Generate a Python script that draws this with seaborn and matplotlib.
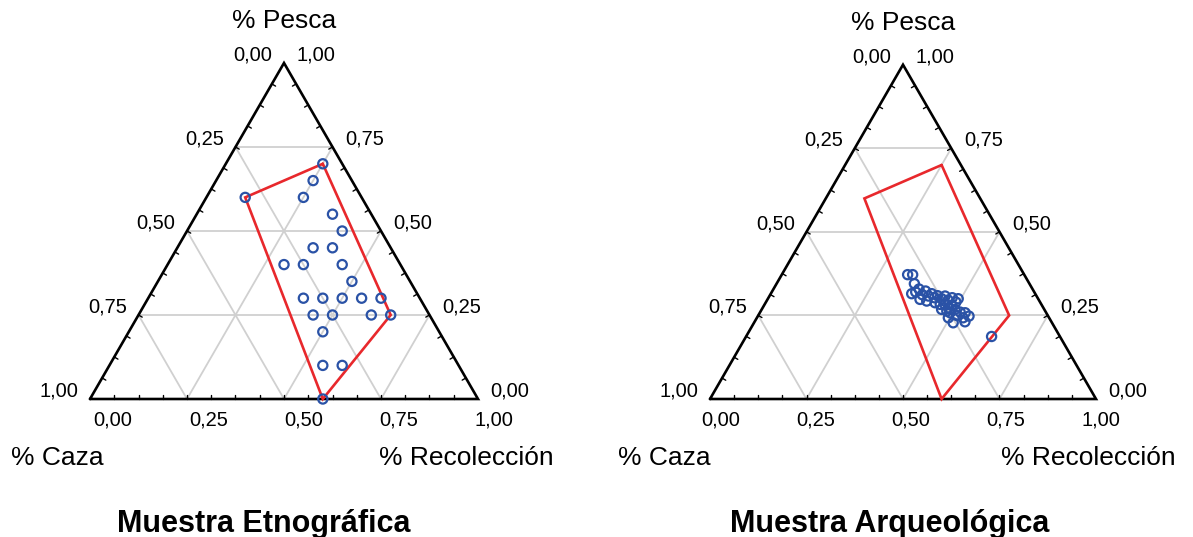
import numpy as np
import pandas as pd
import matplotlib
matplotlib.use("Agg")
import matplotlib.pyplot as plt
import seaborn as sns

# ---------------- data (fractions) ----------------
# Muestra Etnográfica
etno_pesca = [0.70, 0.65, 0.60, 0.60, 0.55, 0.50, 0.45, 0.45, 0.40, 0.40, 0.40, 0.35,
              0.30, 0.30, 0.30, 0.30, 0.30, 0.25, 0.25, 0.25, 0.25, 0.20, 0.10, 0.10, 0.00]
etno_recol = [0.25, 0.25, 0.10, 0.25, 0.35, 0.40, 0.35, 0.40, 0.30, 0.35, 0.45, 0.50,
              0.40, 0.45, 0.50, 0.55, 0.60, 0.45, 0.50, 0.60, 0.65, 0.50, 0.55, 0.60, 0.60]

# Muestra Arqueológica
arq_pesca = [0.372, 0.372, 0.345, 0.315, 0.320, 0.329, 0.312, 0.323, 0.308, 0.315,
             0.303, 0.309, 0.300, 0.308, 0.296, 0.303, 0.290, 0.300, 0.283, 0.273,
             0.280, 0.268, 0.258, 0.250, 0.243, 0.228, 0.260, 0.258, 0.248, 0.231,
             0.298, 0.293, 0.288, 0.283, 0.268, 0.263, 0.243, 0.187]
arq_recol = [0.326, 0.339, 0.357, 0.365, 0.373, 0.377, 0.394, 0.397, 0.412, 0.417,
             0.430, 0.435, 0.450, 0.455, 0.469, 0.476, 0.492, 0.493, 0.467, 0.481,
             0.486, 0.501, 0.493, 0.514, 0.496, 0.516, 0.518, 0.532, 0.547, 0.545,
             0.395, 0.415, 0.439, 0.455, 0.466, 0.482, 0.534, 0.636]

# polygon enclosing the ethnographic sample
hull_pesca = [0.70, 0.60, 0.00, 0.25]
hull_recol = [0.25, 0.10, 0.60, 0.65]

major_ticks = [0.0, 0.25, 0.50, 0.75, 1.0]
tick_labels = ["0,00", "0,25", "0,50", "0,75", "1,00"]
grid_vals = [0.25, 0.50, 0.75]
minor_step = 1 / 16

panel_titles = ["Muestra Etnográfica", "Muestra Arqueológica"]
axis_names = ["% Pesca", "% Caza", "% Recolección"]

# ---------------- style ----------------
sns.set_theme(style="white")
plt.rcParams["font.family"] = ["Liberation Sans", "DejaVu Sans"]
plt.rcParams["text.color"] = "black"

W_PX, H_PX = 1193, 537
DPI = 100
BLUE = "#2a52a6"
RED = "#e8282c"
GRID = "#d0d0d0"
H = np.sqrt(3) / 2
PT = 72 / DPI  # points per pixel


def tern(p, r):
    p = np.asarray(p, float)
    r = np.asarray(r, float)
    return r + p / 2, p * H


fig = plt.figure(figsize=(W_PX / DPI, H_PX / DPI), dpi=DPI)

panels = [
    dict(blx=90, bly=399, w=388, pesca=etno_pesca, recol=etno_recol,
         boff=(23, 7), caza_xy=(57, 458), rec_xy=(466, 458), title_xy=(264, 524)),
    dict(blx=710, bly=399, w=386, pesca=arq_pesca, recol=arq_recol,
         boff=(11, 6), caza_xy=(664, 458), rec_xy=(1088, 458), title_xy=(890, 524)),
]

pad = 0.08
for i, P in enumerate(panels):
    w = P["w"]
    left = (P["blx"] - pad * w) / W_PX
    bottom = (H_PX - P["bly"] - pad * w) / H_PX
    ax = fig.add_axes([left, bottom, (1 + 2 * pad) * w / W_PX, (H + 2 * pad) * w / H_PX])

    # grid lines
    for v in grid_vals:
        x, y = tern([v, v], [0, 1 - v])          # constant pesca
        ax.plot(x, y, color=GRID, lw=1.3, zorder=1)
        x, y = tern([0, 1 - v], [v, v])          # constant recoleccion
        ax.plot(x, y, color=GRID, lw=1.3, zorder=1)
        x, y = tern([0, 1 - v], [1 - v, 0])      # constant caza
        ax.plot(x, y, color=GRID, lw=1.3, zorder=1)

    # triangle frame
    x, y = tern([0, 0, 1, 0], [0, 1, 0, 0])
    ax.plot(x, y, color="black", lw=1.9, zorder=3, solid_joinstyle="miter")

    # minor ticks (inward)
    tl = 0.011
    for k in range(1, 16):
        t = k * minor_step
        x, y = tern([0], [t])
        ax.plot([x[0], x[0]], [0, tl], color="black", lw=1.0, zorder=3)
        x, y = tern([t], [0])
        nx, ny = np.cos(np.radians(-30)), np.sin(np.radians(-30))
        ax.plot([x[0], x[0] + tl * nx], [y[0], y[0] + tl * ny], color="black", lw=1.0, zorder=3)
        x, y = tern([t], [1 - t])
        nx, ny = np.cos(np.radians(210)), np.sin(np.radians(210))
        ax.plot([x[0], x[0] + tl * nx], [y[0], y[0] + tl * ny], color="black", lw=1.0, zorder=3)

    # hull polygon
    hp = hull_pesca + hull_pesca[:1]
    hr = hull_recol + hull_recol[:1]
    x, y = tern(hp, hr)
    ax.plot(x, y, color=RED, lw=1.9, zorder=4, solid_joinstyle="miter")

    # points
    px, py = tern(P["pesca"], P["recol"])
    df = pd.DataFrame({"x": px, "y": py})
    sns.scatterplot(data=df, x="x", y="y", ax=ax, marker="o", s=44,
                    linewidth=1.6, zorder=5, clip_on=False, legend=False)
    coll = ax.collections[-1]
    coll.set_facecolor("none")
    coll.set_edgecolor(BLUE)
    ax.set_xlim(-pad, 1 + pad)
    ax.set_ylim(-pad, H + pad)
    ax.set_axis_off()

    fs = 14.5
    for v, lab in zip(major_ticks, tick_labels):
        ox = P["boff"][0] - P["boff"][1] * v
        ax.annotate(lab, xy=(v, 0), xytext=(ox * PT, -21 * PT), textcoords="offset points",
                    ha="center", va="center", fontsize=fs, color="black")
        x, y = tern([1 - v], [0])
        ax.annotate(lab, xy=(x[0], y[0]), xytext=(-31 * PT, 8 * PT), textcoords="offset points",
                    ha="center", va="center", fontsize=fs, color="black")
        x, y = tern([v], [1 - v])
        ax.annotate(lab, xy=(x[0], y[0]), xytext=(32 * PT, 8 * PT), textcoords="offset points",
                    ha="center", va="center", fontsize=fs, color="black")

    ax.annotate(axis_names[0], xy=(0.5, H), xytext=(0, 42 * PT), textcoords="offset points",
                ha="center", va="center", fontsize=19, color="black")
    fig.text(P["caza_xy"][0] / W_PX, 1 - P["caza_xy"][1] / H_PX, axis_names[1],
             ha="center", va="center", fontsize=19, color="black")
    fig.text(P["rec_xy"][0] / W_PX, 1 - P["rec_xy"][1] / H_PX, axis_names[2],
             ha="center", va="center", fontsize=19, color="black")
    fig.text(P["title_xy"][0] / W_PX, 1 - P["title_xy"][1] / H_PX, panel_titles[i],
             ha="center", va="center", fontsize=22, fontweight="bold", color="black")

fig.savefig("out.png", dpi=DPI)
